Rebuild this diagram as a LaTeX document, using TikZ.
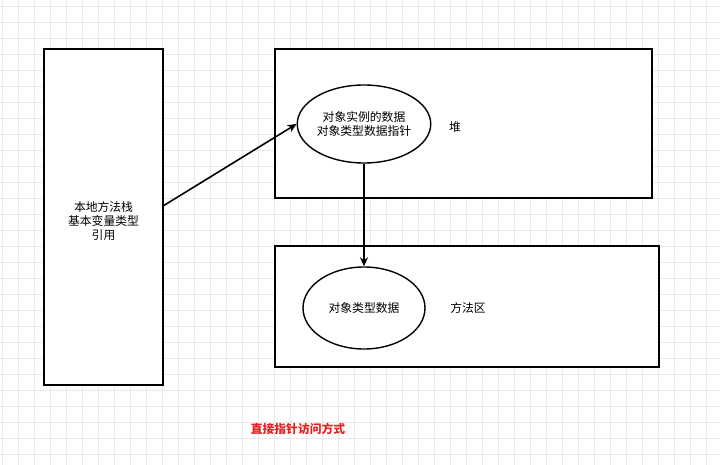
\documentclass[tikz,border=0pt]{standalone}
\usepackage{fontspec}
\newfontfamily\cjk{Noto Sans CJK SC}
\usetikzlibrary{shapes.geometric,arrows.meta}
\definecolor{gridc}{HTML}{E9E9E9}
\definecolor{redt}{HTML}{E52222}
\begin{document}
\begin{tikzpicture}[x=1pt,y=-1pt,
  box/.style={draw=black,line width=2pt,fill=white},
  oval/.style={draw=black,line width=1.4pt,fill=white,ellipse,inner sep=0pt},
  lbl/.style={font=\cjk\fontsize{11.8}{14}\selectfont,align=center,text=black},
  conn/.style={line width=1.6pt,-{Stealth[length=9pt,width=8pt]}}]
\useasboundingbox (0,0) rectangle (720,465);
\fill[white] (0,0) rectangle (720,465);
\foreach \i in {0,16,...,720} \draw[gridc,line width=0.8pt] (\i+2,0) -- (\i+2,465);
\foreach \j in {0,16,...,465} \draw[gridc,line width=0.8pt] (0,\j+6) -- (720,\j+6);
\draw[box] (44,49) rectangle (163,385);
\draw[box] (275,49) rectangle (652,198);
\draw[box] (275,246) rectangle (659,367);
\node[lbl] (stack) at (103.5,221) {本地方法栈\\基本变量类型\\引用};
\coordinate (stackR) at (163,206);
\node[oval,minimum width=122pt,minimum height=78pt,lbl] (inst) at (364,124) {对象实例的数据\\对象类型数据指针};
\node[oval,minimum width=122pt,minimum height=82pt,lbl] (type) at (364,308) {对象类型数据};
\node[lbl] (heap) at (455,127) {堆};
\node[lbl] (meth) at (468,308) {方法区};
\node[font=\cjk\bfseries\fontsize{11.8}{14}\selectfont,text=redt] (cap) at (298,429) {直接指针访问方式};
\draw[conn] (stackR) -- (inst.west);
\draw[conn] (inst.south) -- (type.north);
\end{tikzpicture}
\end{document}
